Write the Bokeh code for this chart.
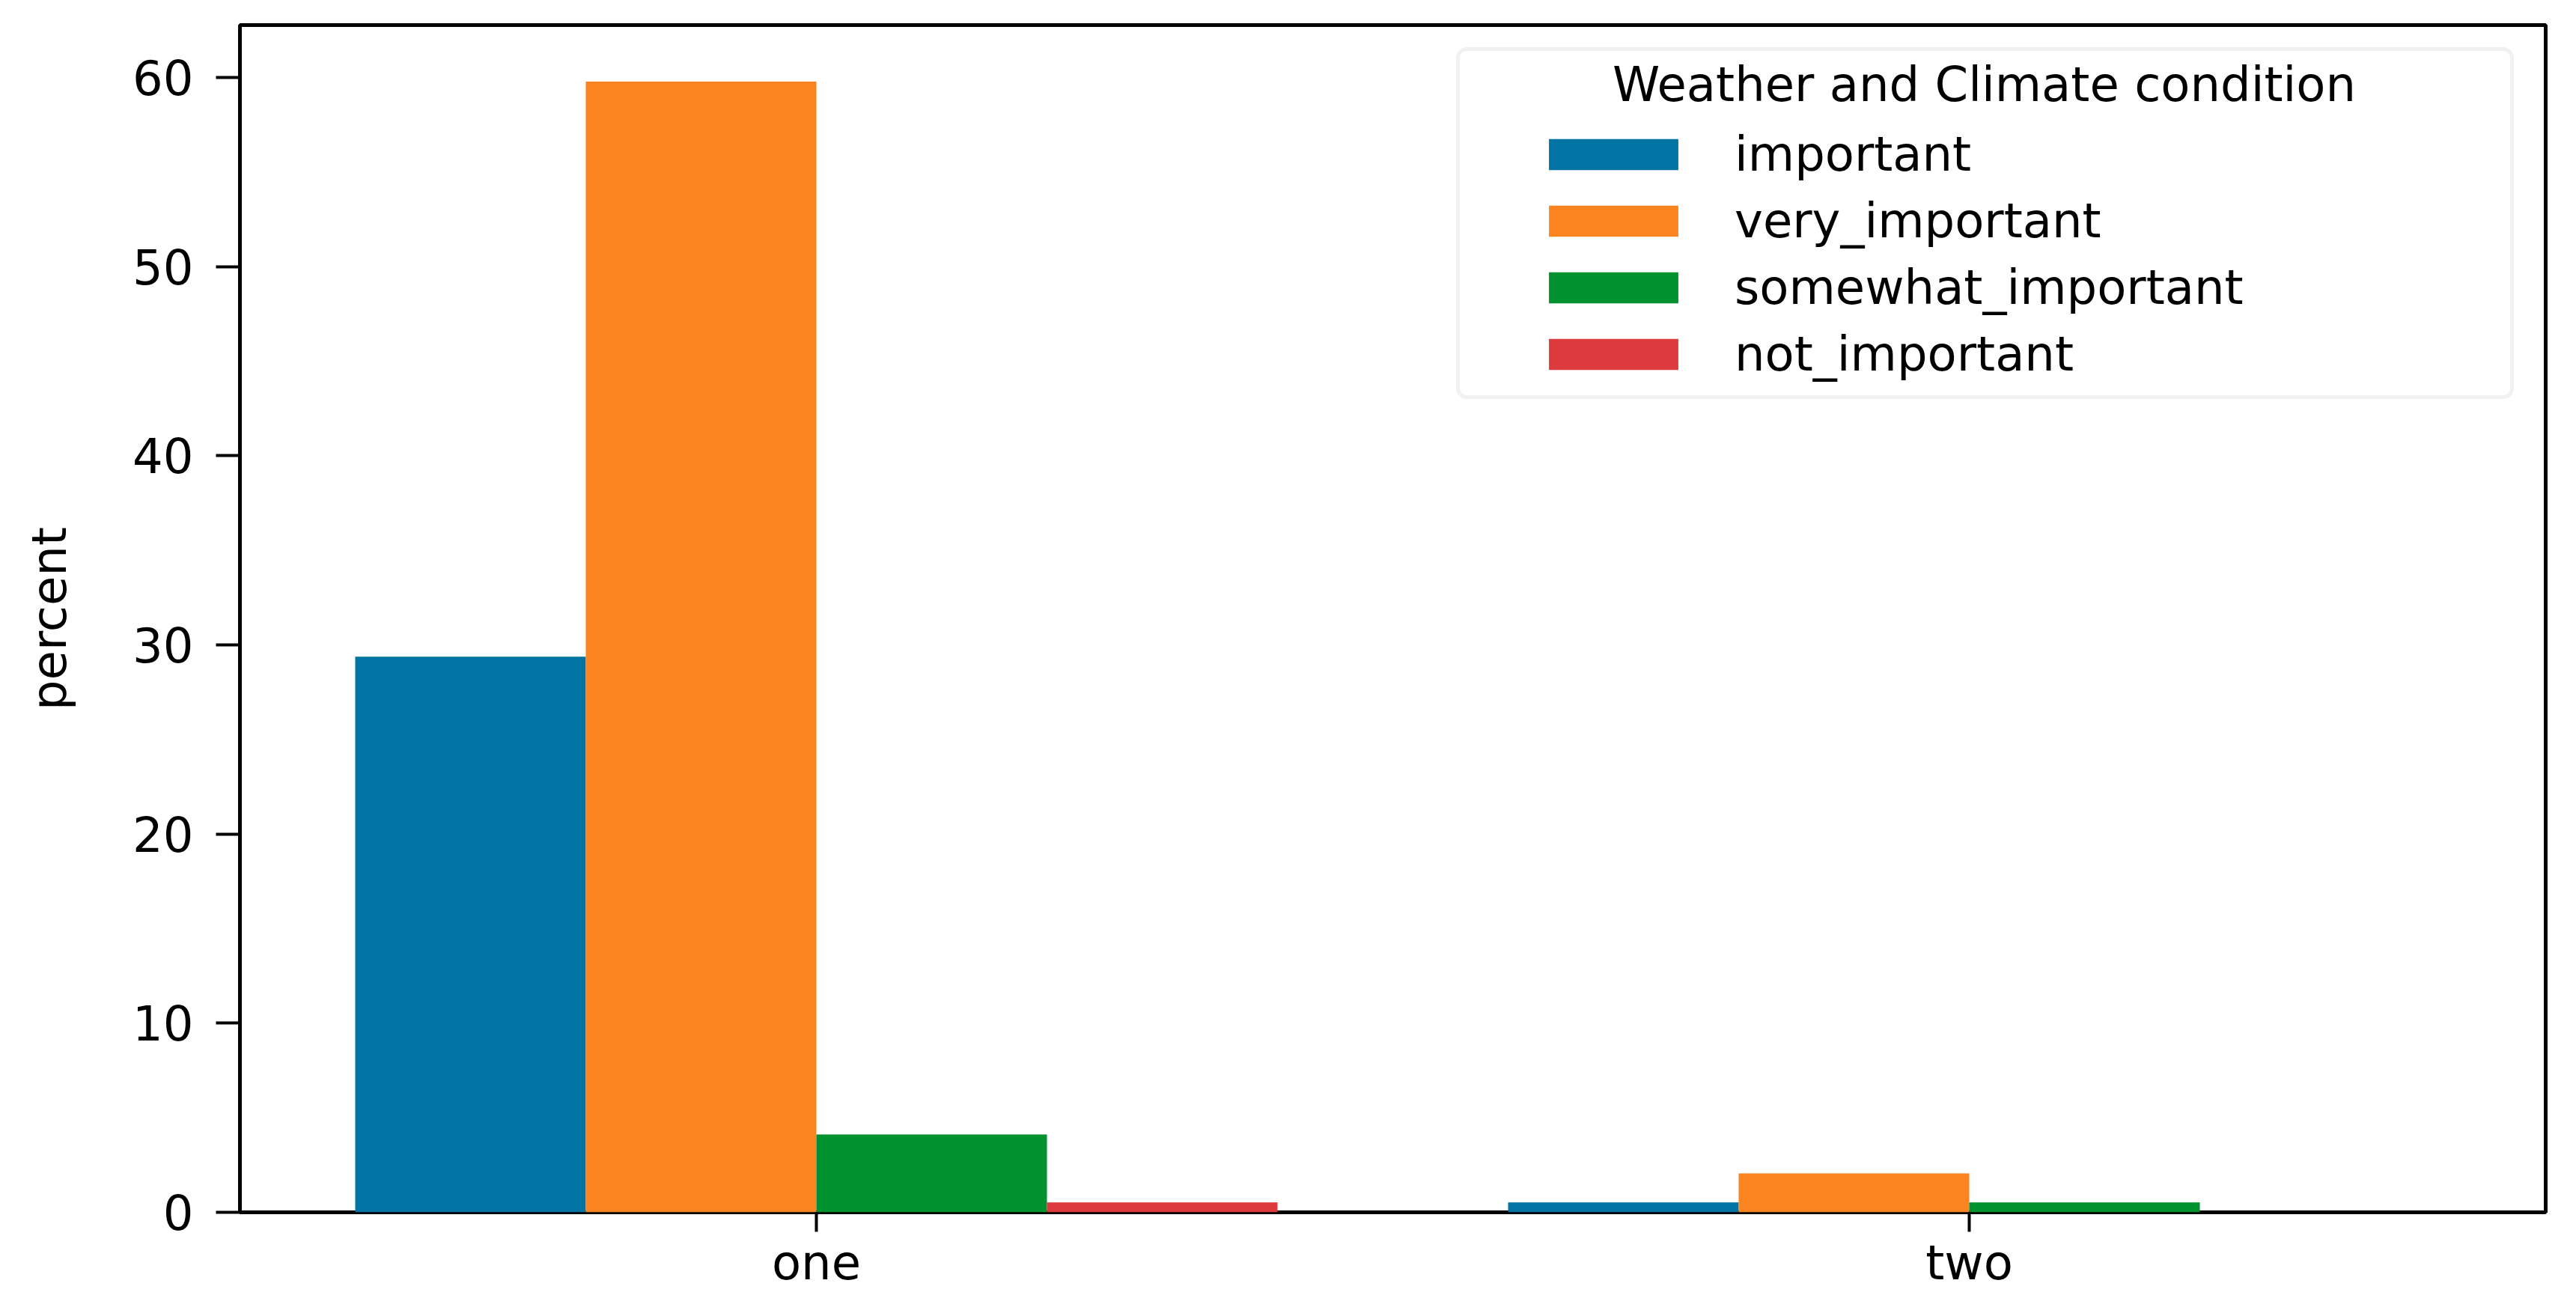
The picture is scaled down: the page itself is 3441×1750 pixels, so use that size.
from bokeh.plotting import figure
from bokeh.models import (FactorRange, Range1d, FixedTicker, Legend, LegendItem,
                          BoxAnnotation, Label, ColumnDataSource)
from bokeh.transform import dodge
from bokeh.embed import file_html
from bokeh.resources import INLINE

# ---- data ----
categories = ["one", "two"]
hue_levels = ["important", "very_important", "somewhat_important", "not_important"]
important = [29.38, 0.52]
very_important = [59.79, 2.06]
somewhat_important = [4.12, 0.52]
not_important = [0.52, 0.0]
y_ticks = [0, 10, 20, 30, 40, 50, 60]
legend_title = "Weather and Climate condition"
y_label = "percent"

colors = ["#0174A4", "#FC8420", "#01922F", "#DC3A3C"]
FONT = "DejaVu Sans"
FS = "64px"

# ---- geometry (canvas px) ----
W, H = 3425, 1734
FL, FR, FT, FB = 320, 3400, 33, 1619
YMAX = max(very_important) * 1.05

def dx(px):
    return (px - FL) / (FR - FL) * len(categories)

def dy(py):
    return (FB - py) / (FB - FT) * YMAX

p = figure(width=W, height=H,
           x_range=FactorRange(*categories, range_padding=0),
           y_range=Range1d(0, YMAX),
           output_backend="svg", toolbar_location=None,
           min_border_left=FL, min_border_right=W - FR,
           min_border_top=FT, min_border_bottom=H - FB)

src = ColumnDataSource(dict(cat=categories, important=important,
                            very_important=very_important,
                            somewhat_important=somewhat_important,
                            not_important=not_important))

n = len(hue_levels)
bw = 0.8 / n
renderers = []
for i, (name, col) in enumerate(zip(hue_levels, colors)):
    off = -0.4 + bw * (i + 0.5)
    r = p.vbar(x=dodge("cat", off, range=p.x_range), top=name, bottom=0,
               width=bw, source=src, fill_color=col, line_color=None)
    renderers.append(r)

# axes
p.xgrid.visible = False
p.ygrid.visible = False
p.outline_line_color = "black"
p.outline_line_width = 5
p.background_fill_color = "white"
p.border_fill_color = "white"

for ax in (p.xaxis[0], p.yaxis[0]):
    ax.axis_line_color = None
    ax.major_tick_in = 0
    ax.major_tick_line_width = 4
    ax.major_tick_line_color = "black"
    ax.minor_tick_line_color = None
    ax.major_label_text_font = FONT
    ax.major_label_text_font_size = FS
    ax.major_label_text_color = "black"

p.xaxis.major_tick_out = 26
p.xaxis.major_label_standoff = 4
p.yaxis.major_tick_out = 32
p.yaxis.major_label_standoff = 30
p.yaxis.ticker = FixedTicker(ticks=y_ticks)
p.yaxis.axis_label = y_label
p.yaxis.axis_label_text_font = FONT
p.yaxis.axis_label_text_font_size = FS
p.yaxis.axis_label_text_font_style = "normal"
p.yaxis.axis_label_text_color = "black"
p.yaxis.axis_label_standoff = 71

# legend frame
box = BoxAnnotation(left=dx(1947), right=dx(3355), top=dy(65), bottom=dy(530),
                    fill_color="white", fill_alpha=0.8,
                    line_color="#d2d2d2", line_width=5, border_radius=12)
p.add_layout(box)

legend = Legend(items=[LegendItem(label=h, renderers=[r]) for h, r in zip(hue_levels, renderers)],
                location=(2047 - FL, FB - 510),
                padding=0, margin=0, spacing=15,
                glyph_width=216, glyph_height=52,
                label_standoff=54,
                label_text_font=FONT, label_text_font_size=FS,
                label_text_color="black",
                border_line_alpha=0, background_fill_alpha=0)
p.add_layout(legend)

title = Label(x=dx(2650), y=dy(112), text=legend_title, text_align="center",
              text_baseline="alphabetic", text_font=FONT, text_font_size=FS,
              text_color="black")
p.add_layout(title)

open("out.html", "w").write(file_html(p, INLINE))
